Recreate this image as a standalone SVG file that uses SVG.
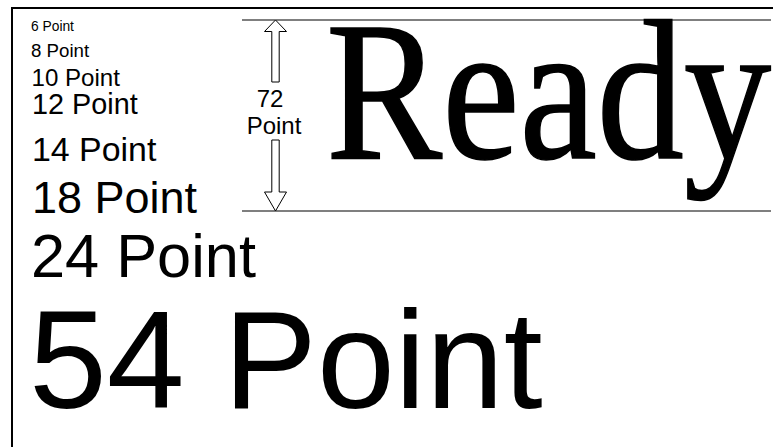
<svg xmlns="http://www.w3.org/2000/svg" width="773" height="447" viewBox="0 0 773 447">
<style>
.s{font-family:"Liberation Sans",Arial,sans-serif;fill:#000}
.serif{font-family:"Liberation Serif","Times New Roman",Times,serif;fill:#000;stroke:#000;stroke-width:1.6}
.guide{stroke:#555;stroke-width:1.3}
.arr{fill:#fff;stroke:#000;stroke-width:1}
</style>
<rect x="0" y="0" width="773" height="447" fill="#fff"/>
<rect x="12" y="8" width="900" height="600" fill="none" stroke="#000" stroke-width="2"/>
<g id="sizes">
<text class="s" x="31" y="30.5" font-size="13.8">6 Point</text>
<text class="s" x="31" y="56.5" font-size="18.7">8 Point</text>
<text class="s" x="31.5" y="86" font-size="24.1">10 Point</text>
<text class="s" x="32" y="113.5" font-size="28.8">12 Point</text>
<text class="s" x="32" y="161" font-size="33.9">14 Point</text>
<text class="s" x="32" y="213" font-size="45">18 Point</text>
<text class="s" x="31" y="277" font-size="61.3">24 Point</text>
<text class="s" x="29" y="408" font-size="140">54 Point</text>
</g>
<g id="ready">
<line class="guide" x1="242" y1="20" x2="771" y2="20"/>
<line class="guide" x1="242" y1="211" x2="771" y2="211"/>
<text class="serif" x="326" y="158" font-size="200" textLength="445" lengthAdjust="spacingAndGlyphs">Ready</text>
</g>
<g id="measure">
<polygon class="arr" points="275.5,20 286.5,31.5 279.2,31.5 279.2,82 271.8,82 271.8,31.5 264.5,31.5"/>
<polygon class="arr" points="275.5,211 286.5,192 279.2,192 279.2,140 271.8,140 271.8,192 264.5,192"/>
<text class="s" x="270" y="107" font-size="24" text-anchor="middle">72</text>
<text class="s" x="274" y="133.5" font-size="24" text-anchor="middle">Point</text>
</g>
</svg>
